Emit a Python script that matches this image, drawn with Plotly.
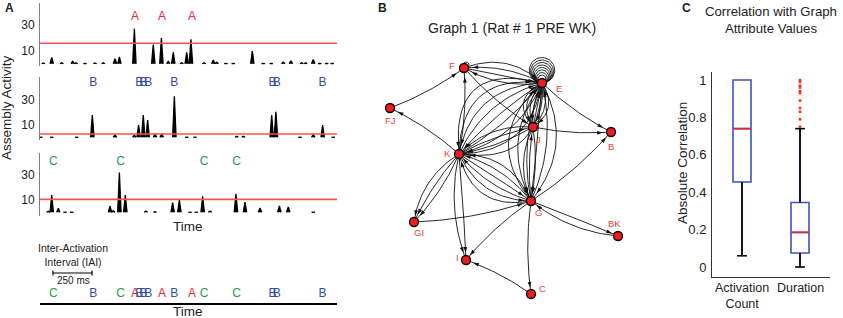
import numpy as np
import plotly.graph_objects as go

W, H = 843, 318
FONT = "Liberation Sans, Arial, sans-serif"
RED, BLUE, GREEN = "#ee2a2a", "#2f4ea6", "#1d9e48"

# ---------------- Panel A data (time in ms) ----------------
A_t = [21, 75, 139, 209, 230, 288, 352, 405, 480, 508, 604, 725, 777, 821, 853, 907, 939, 966,
       1050, 1109, 1131, 1190, 1237, 1359, 1429, 1480, 1557, 1606, 1675, 1700, 1749, 1790, 1835, 1870]
A_h = [0.8, 5, 1, 2, 1, 0.5, 0.8, 1, 4, 5.5, 27, 15, 20, 2, 9, 1, 9, 19,
       1, 3, 1.5, 0.5, 0.5, 10, 0.5, 0.5, 1.5, 2.5, 1, 1, 3.5, 0.5, 0.5, 0.5]
B_t = [5, 75, 235, 335, 480, 604, 631, 661, 689, 736, 779, 860, 939, 992, 1259, 1302,
       1483, 1510, 1664, 1749, 1809, 1877]
B_h = [0.5, 0.5, 0.5, 18, 2, 2, 10, 18, 14, 3, 3, 33, 0.5, 0.5, 1, 1, 18, 20.5, 0.5, 2.5, 10, 0.5]
C_t = [53, 75, 117, 160, 203, 448, 469, 508, 546, 678, 736, 849, 892, 960, 1000, 1041, 1088,
       1254, 1312, 1408, 1532, 1589, 1749]
C_h = [1, 14, 3.3, 0.5, 0.5, 5, 1.5, 32, 14, 1.2, 0.7, 8, 10, 0.5, 0.5, 13, 1.2, 15, 8.4, 3.6,
       5.2, 4.4, 0.5]
thresholds = [16, 2.8, 10.5]
A_lab = [608, 781, 973]
B_lab = [341, 636, 661, 693, 860, 1489, 1515, 1809]
C_lab = [85, 516, 1050, 1259]
ytick_vals = [10, 30]
time_range = [0, 1901]
scale_bar_ms = 250

# ---------------- Panel B data (graph layout units) ----------------
node_names = ["E", "F", "FJ", "J", "B", "K", "G", "GI", "BK", "I", "C"]
node_x = [542, 464, 390, 533, 611, 459, 531, 414, 618, 466, 531]
node_y = [83, 68, 108, 127, 132, 154, 201, 222, 236, 260, 294]
# (u, v, count u->v, count v->u)
edges = [
    ("E", "F", 2, 2), ("FJ", "F", 1, 0), ("K", "FJ", 1, 0), ("K", "F", 1, 0),
    ("F", "J", 1, 0), ("E", "J", 4, 4), ("E", "K", 5, 4), ("E", "B", 1, 0),
    ("J", "B", 1, 0), ("E", "G", 3, 3), ("J", "K", 2, 1), ("J", "G", 2, 1),
    ("K", "G", 3, 3), ("K", "GI", 3, 0), ("K", "I", 2, 0), ("GI", "G", 1, 0),
    ("G", "I", 1, 0), ("G", "C", 1, 0), ("G", "BK", 1, 1), ("C", "I", 1, 0),
    ("G", "B", 1, 0),
]
self_loops = {"E": 8, "F": 1}

# ---------------- Panel C data ----------------
box_labels = ["Activation<br>Count", "Duration"]
box_q1 = [0.455, 0.075]
box_med = [0.74, 0.185]
box_q3 = [1.0, 0.345]
box_lo = [0.06, 0.0]
box_hi = [1.0, 0.74]
dur_outliers = [1.0, 0.99, 0.97, 0.96, 0.94, 0.93, 0.89, 0.85, 0.83, 0.79, 0.75]
corr_ticks = [0, 0.2, 0.4, 0.6, 0.8, 1]


def px(x):
    return x / W


def py(y):
    return 1 - y / H


fig = go.Figure()

# ---- Panel A strips ----
def spike_path(ts, hs, w=11, base=0.2):
    xs, ys = [], []
    for t, h in zip(ts, hs):
        xs += [t - w, t, t + w, None]
        ys += [base, h, base, None]
    return xs, ys

strip_axes = ["y", "y2", "y3"]
for (ts, hs), ya in zip([(A_t, A_h), (B_t, B_h), (C_t, C_h)], strip_axes):
    xs, ys = spike_path(ts, hs)
    fig.add_trace(go.Scatter(x=xs, y=ys, mode="lines", fill="toself", fillcolor="black",
                             line=dict(color="black", width=1.3), xaxis="x", yaxis=ya,
                             hoverinfo="skip"))

for thr, ya in zip(thresholds, strip_axes):
    fig.add_shape(type="line", xref="x domain", x0=0, x1=1, yref=ya, y0=thr, y1=thr,
                  line=dict(color="#f25454", width=1.6))

lab_sets = [(A_lab, "A", RED, "y", 36), (B_lab, "B", BLUE, "y2", 43.5), (C_lab, "C", GREEN, "y3", 40.5)]
for labs, ch, col, ya, yy in lab_sets:
    fig.add_trace(go.Scatter(x=labs, y=[yy] * len(labs), mode="text", text=[ch] * len(labs),
                             textfont=dict(color=col, size=12, family=FONT),
                             xaxis="x", yaxis=ya, hoverinfo="skip"))
    fig.add_trace(go.Scatter(x=labs, y=[0.5] * len(labs), mode="text", text=[ch] * len(labs),
                             textfont=dict(color=col, size=12, family=FONT),
                             xaxis="x", yaxis="y4", hoverinfo="skip"))

# ---- Panel B graph ----
pos = {n: np.array([x, y], dtype=float) for n, x, y in zip(node_names, node_x, node_y)}


def bezier(p0, p1, bend, n=30):
    d = p1 - p0
    L = np.hypot(*d)
    perp = np.array([-d[1], d[0]]) / L
    c = (p0 + p1) / 2 + perp * bend * L
    t = np.linspace(0, 1, n)[:, None]
    return (1 - t) ** 2 * p0 + 2 * (1 - t) * t * c + t ** 2 * p1


ex, ey, ax_, ay_, aang = [], [], [], [], []


def add_arrow(pts):
    end = pts[-1]
    k = len(pts) - 1
    while k > 0 and np.hypot(*(pts[k] - end)) < 6:
        k -= 1
    p = pts[k]
    dvec = pts[k + 1] - pts[k] if k + 1 < len(pts) else pts[k] - pts[k - 1]
    ax_.append(p[0]); ay_.append(p[1])
    aang.append(float(np.degrees(np.arctan2(dvec[0], -dvec[1]))))


for u, v, nf, nr in edges:
    n = nf + nr
    step = 0.16
    dirs = []
    f, r = nf, nr
    while f or r:
        if f:
            dirs.append(1); f -= 1
        if r:
            dirs.append(-1); r -= 1
    for i, dr in enumerate(dirs):
        bend = 0.07 + (i - (n - 1) / 2) * step if n > 1 else 0.07
        pts = bezier(pos[u], pos[v], bend)
        if dr < 0:
            pts = pts[::-1]
        ex.extend(list(pts[:, 0]) + [None]); ey.extend(list(pts[:, 1]) + [None])
        add_arrow(pts)

for nm, cnt in self_loops.items():
    c0 = pos[nm]
    th = np.linspace(0, 2 * np.pi, 50)
    for i in range(cnt):
        r = (4 + i * 1.25) if nm == "E" else 3
        cx = c0[0] + (0 if nm == "E" else 2)
        cy = c0[1] - r
        ex.extend(list(cx + r * np.sin(th)) + [None])
        ey.extend(list(cy + r * np.cos(th)) + [None])

fig.add_trace(go.Scatter(x=ex, y=ey, mode="lines", line=dict(color="#111", width=0.9),
                         xaxis="x5", yaxis="y5", hoverinfo="skip"))
fig.add_trace(go.Scatter(x=ax_, y=ay_, mode="markers",
                         marker=dict(symbol="arrow", size=6, angle=aang, color="#111",
                                     line=dict(width=0)),
                         xaxis="x5", yaxis="y5", hoverinfo="skip"))
fig.add_trace(go.Scatter(x=node_x, y=node_y, mode="markers",
                         marker=dict(size=9, color="#ee1c1c", line=dict(color="black", width=1.3)),
                         xaxis="x5", yaxis="y5", hoverinfo="skip"))
label_shift = {"E": (17, -5), "F": (-12, 3), "FJ": (0, -12), "J": (5, -12), "B": (0, -14),
               "K": (-12, 1), "G": (7, -11), "GI": (5, -10), "BK": (-4, 13), "I": (-9, 3),
               "C": (11, 6)}
for nm, x, y in zip(node_names, node_x, node_y):
    dx, dy = label_shift[nm]
    fig.add_annotation(x=x, y=y, xref="x5", yref="y5", text=nm, showarrow=False,
                       xshift=dx, yshift=dy, font=dict(color="#f04040", size=9.5, family=FONT))

# ---- Panel C box plot ----
bx = [0, 1]
fig.add_trace(go.Box(x=bx, q1=box_q1, median=box_med, q3=box_q3, lowerfence=box_lo,
                     upperfence=box_hi, width=0.31, whiskerwidth=0, boxpoints=False,
                     fillcolor="rgba(0,0,0,0)", line=dict(color="#3c55b4", width=1.6),
                     xaxis="x6", yaxis="y6", hoverinfo="skip"))
wx, wy = [], []
cap = 0.085
for x, lo, q1, q3, hi in zip(bx, box_lo, box_q1, box_q3, box_hi):
    wx += [x, x, None, x - cap, x + cap, None]
    wy += [lo, q1, None, lo, lo, None]
    if hi > q3:
        wx += [x, x, None, x - cap, x + cap, None]
        wy += [q3, hi, None, hi, hi, None]
fig.add_trace(go.Scatter(x=wx, y=wy, mode="lines", line=dict(color="black", width=1.6),
                         xaxis="x6", yaxis="y6", hoverinfo="skip"))
mx, my = [], []
for x, m in zip(bx, box_med):
    mx += [x - 0.155, x + 0.155, None]
    my += [m, m, None]
fig.add_trace(go.Scatter(x=mx, y=my, mode="lines", line=dict(color="#e8262a", width=1.6),
                         xaxis="x6", yaxis="y6", hoverinfo="skip"))
fig.add_trace(go.Scatter(x=[1] * len(dur_outliers), y=dur_outliers, mode="markers",
                         marker=dict(symbol="square", size=2.6, color="#ff2a2a", line=dict(width=0)),
                         xaxis="x6", yaxis="y6", hoverinfo="skip"))
for x, lab in zip(bx, box_labels):
    fig.add_annotation(x=x, xref="x6", y=py(279), yref="paper", yanchor="top", text=lab,
                       showarrow=False, font=dict(size=12.5, family=FONT, color="#222"))

# ---------------- Layout ----------------
tickfont = dict(size=12, family=FONT, color="#222")
xdom_A = [px(40), px(337)]


def strip_y(top, bottom, zero_py, ppu):
    return dict(domain=[py(bottom), py(top)],
                range=[-(bottom - zero_py) / ppu, (zero_py - top) / ppu],
                anchor="x", showline=True, linecolor="#808080", linewidth=1,
                tickvals=ytick_vals, ticks="", showgrid=False, zeroline=False,
                tickfont=tickfont, ticklabelstandoff=2)


fig.update_layout(
    width=W, height=H, margin=dict(l=0, r=0, t=0, b=0),
    paper_bgcolor="white", plot_bgcolor="white", showlegend=False,
    font=dict(family=FONT, color="#222"),
    xaxis=dict(domain=xdom_A, range=time_range, anchor="y4", showline=True,
               linecolor="black", linewidth=1.6, showticklabels=False, ticks="",
               showgrid=False, zeroline=False),
    yaxis=strip_y(3, 66, 64, 1.3),
    yaxis2=strip_y(77, 140, 137.5, 1.25),
    yaxis3=strip_y(153, 216, 212.5, 1.25),
    yaxis4=dict(domain=[py(303), py(285)], range=[0, 1], anchor="x", visible=False),
    xaxis5=dict(domain=[px(370), px(650)], range=[370, 650], anchor="y5", visible=False),
    yaxis5=dict(domain=[py(310), py(40)], range=[310, 40], anchor="x5", visible=False),
    xaxis6=dict(domain=[px(712), px(830)], range=[-0.517, 1.517], anchor="y6",
                showline=True, linecolor="#333", linewidth=1, tickvals=bx,
                showticklabels=False, ticks="", showgrid=False, zeroline=False),
    yaxis6=dict(domain=[py(277), py(72)], range=[-0.0535, 1.043], anchor="x6",
                showline=True, linecolor="#333", linewidth=1, tickvals=corr_ticks,
                ticktext=["0", "0.2", "0.4", "0.6", "0.8", "1"], ticks="",
                showgrid=False, zeroline=False, tickfont=dict(size=13, family=FONT, color="#222"),
                ticklabelstandoff=2),
)

# Scale bar (250 ms) on time axis
sb_x0 = 83
fig.add_shape(type="line", xref="x", x0=sb_x0, x1=sb_x0 + scale_bar_ms, yref="paper",
              y0=py(273), y1=py(273), line=dict(color="black", width=1.2))
for xx in (sb_x0, sb_x0 + scale_bar_ms):
    fig.add_shape(type="line", xref="x", x0=xx, x1=xx, yref="paper", y0=py(270.5), y1=py(275.5),
                  line=dict(color="black", width=1.2))


def ann(x, y, text, size, color="#222", angle=0):
    fig.add_annotation(x=px(x), y=py(y), xref="paper", yref="paper", text=text, showarrow=False,
                       font=dict(size=size, family=FONT, color=color), textangle=angle,
                       xanchor="center", yanchor="middle", align="center")


ann(9, 8, "<b>A</b>", 12)
ann(382, 8, "<b>B</b>", 12)
ann(686, 8, "<b>C</b>", 12)
ann(7, 108, "Assembly Activity", 13.5, angle=-90)
ann(188, 227, "Time", 13.5)
ann(188, 311, "Time", 13.5)
ann(73, 255, "Inter-Activation<br>Interval (IAI)", 10.5)
ann(73, 280, "250 ms", 10)
ann(512, 28, "Graph 1 (Rat # 1 PRE WK)", 14)
ann(771, 20, "Correlation with Graph<br>Attribute Values", 13.2)
ann(682, 163, "Absolute Correlation", 13.5, angle=-90)

fig.write_html("out.html", config={"displayModeBar": False},
               post_script="document.body.style.margin='0';document.body.style.overflow='hidden';")
